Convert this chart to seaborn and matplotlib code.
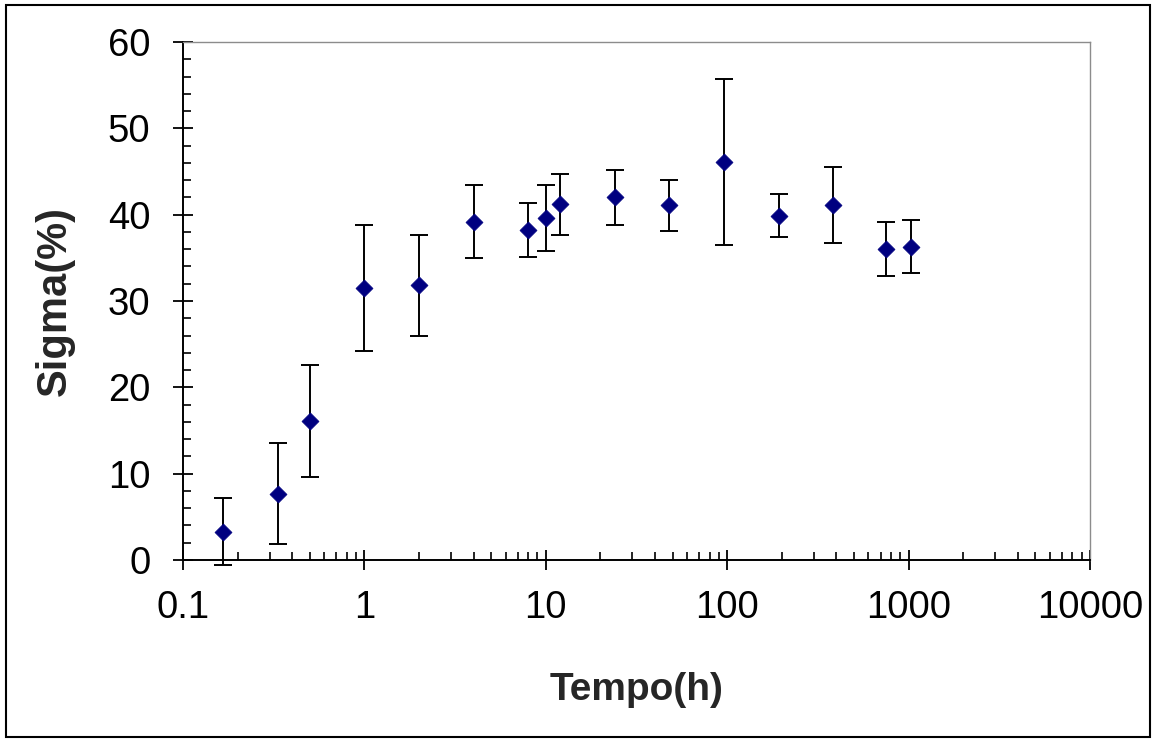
import numpy as np
import pandas as pd
import matplotlib
matplotlib.use("Agg")
import matplotlib.pyplot as plt
from matplotlib.patches import Rectangle
from matplotlib.ticker import LogLocator, MultipleLocator, FixedLocator, FixedFormatter, NullFormatter
import seaborn as sns

# ---- data ----
tempo_h = [0.167, 0.333, 0.5, 1, 2, 4, 8, 10, 12, 24, 48, 96, 192, 384, 750, 1030]
sigma_pct = [3.3, 7.7, 16.1, 31.5, 31.8, 39.2, 38.2, 39.6, 41.2, 42.0, 41.1, 46.1, 39.9, 41.1, 36.0, 36.3]
sigma_err = [3.9, 5.9, 6.5, 7.3, 5.9, 4.25, 3.1, 3.85, 3.55, 3.2, 2.95, 9.65, 2.45, 4.4, 3.15, 3.05]
x_tick_values = [0.1, 1, 10, 100, 1000, 10000]
x_tick_labels = ["0.1", "1", "10", "100", "1000", "10000"]
y_tick_values = [0, 10, 20, 30, 40, 50, 60]
x_label = "Tempo(h)"
y_label = "Sigma(%)"

df = pd.DataFrame({"tempo": tempo_h, "sigma": sigma_pct, "err": sigma_err})

sns.set_theme(style="white")
plt.rcParams["font.family"] = ["Liberation Sans", "DejaVu Sans"]

fig = plt.figure(figsize=(11.53, 7.42), dpi=100)
ax = fig.add_axes([183 / 1153, 1 - 560 / 742, (1090 - 183) / 1153, (560 - 42) / 742])

eb = ax.errorbar(df["tempo"], df["sigma"], yerr=df["err"], fmt="none",
                 ecolor="black", elinewidth=1.4, capsize=6.5, capthick=1.4, zorder=2)
for art in eb.lines[1] + eb.lines[2]:
    art.set_clip_on(False)
sns.scatterplot(data=df, x="tempo", y="sigma", marker="D", s=75, color="#000080",
                edgecolor="#000080", linewidth=0.5, ax=ax, zorder=3, legend=False)

ax.set_xscale("log")
ax.set_xlim(0.1, 10000)
ax.set_ylim(0, 60)

ax.xaxis.set_major_locator(FixedLocator(x_tick_values))
ax.xaxis.set_major_formatter(FixedFormatter(x_tick_labels))
ax.xaxis.set_minor_locator(LogLocator(base=10, subs=np.arange(2, 10), numticks=20))
ax.xaxis.set_minor_formatter(NullFormatter())
ax.yaxis.set_major_locator(FixedLocator(y_tick_values))
ax.yaxis.set_minor_locator(MultipleLocator(2))

ax.tick_params(axis="both", which="major", direction="inout", length=15, width=1.3,
               color="black", labelsize=27.5, labelcolor="black")
ax.tick_params(axis="x", which="major", pad=14)
ax.tick_params(axis="y", which="major", pad=16)
ax.tick_params(axis="both", which="minor", direction="in", length=6, width=1.2, color="black")
ax.tick_params(axis="x", which="both", bottom=True, top=False)
ax.tick_params(axis="y", which="both", left=True, right=False)

for side in ["left", "bottom"]:
    ax.spines[side].set_color("black")
    ax.spines[side].set_linewidth(1.4)
for side in ["top", "right"]:
    ax.spines[side].set_color("#8c8c8c")
    ax.spines[side].set_linewidth(1.0)

ax.set_xlabel(x_label, fontsize=28, fontweight="bold", labelpad=33)
ax.set_ylabel(y_label, fontsize=30, fontweight="bold", labelpad=24)

fig.patches.append(Rectangle((6 / 1153, 5 / 742), (1150 - 6) / 1153, (737 - 5) / 742,
                             transform=fig.transFigure, fill=False, edgecolor="black",
                             linewidth=1.5))

fig.savefig("out.png", dpi=100)
